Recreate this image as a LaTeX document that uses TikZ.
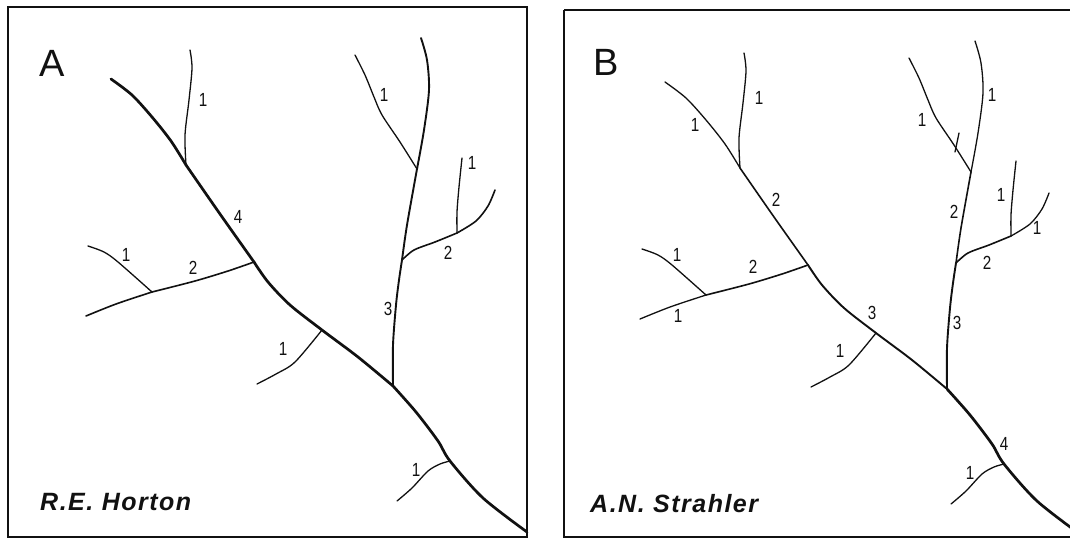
\documentclass[tikz,border=0pt]{standalone}
\usepackage{fontspec}
\setsansfont{Liberation Sans}
\newfontfamily\authorfont[LetterSpace=6]{Liberation Sans}
\newfontfamily\ordfont[FakeStretch=0.8]{Liberation Sans}
\usepackage{tikz}
\usetikzlibrary{positioning}
\definecolor{ink}{HTML}{111111}

% one drainage network, drawn in pixel units; segment styles are set per panel
\newcommand{\streamnet}{%
  \coordinate (j1) at (186,165);
  \coordinate (j2) at (254,262);
  \coordinate (j3) at (322,330);
  \coordinate (j4) at (393,386);
  \coordinate (j5) at (450,461);
  \coordinate (k1) at (417,169);
  \coordinate (k2) at (402,260);
  \coordinate (l1) at (152,292);
  \coordinate (r1) at (457,233);
  % main stream
  \draw[trunkA] plot[smooth] coordinates {(111,79) (132,95) (152,117) (171,141) (j1)};
  \draw[trunkB] plot[smooth] coordinates {(j1) (220,214) (j2)};
  \draw[trunkC] plot[smooth] coordinates {(j2) (268,282) (290,305) (j3) (358,357) (j4)};
  \draw[trunkD] plot[smooth] coordinates {(j4) (416,412) (438,441) (j5) (483,498) (527,532)};
  % east stream
  \draw[eastC] plot[smooth] coordinates {(j4) (393,345) (396,305) (399,280) (k2)};
  \draw[eastB] plot[smooth] coordinates {(k2) (407,225) (k1)};
  \draw[eastA] plot[smooth] coordinates {(k1) (424,130) (429,90) (427,60) (421,38)};
  % west stream
  \draw[westA] plot[smooth] coordinates {(86,316) (116,304) (l1)};
  \draw[westB] plot[smooth] coordinates {(l1) (195,281) (228,271) (j2)};
  % east fork
  \draw[forkB] plot[smooth] coordinates {(k2) (414,250) (435,242) (r1)};
  \draw[forkA] plot[smooth] coordinates {(r1) (476,221) (488,206) (495,190)};
  % first order tributaries
  \draw[ord1] plot[smooth] coordinates {(190,50) (192,68) (189,100) (185,135) (j1)};
  \draw[ord1] plot[smooth] coordinates {(88,246) (104,252) (118,262) (l1)};
  \draw[ord1] plot[smooth] coordinates {(257,384) (276,374) (295,362) (j3)};
  \draw[ord1] plot[smooth] coordinates {(355,55) (365,75) (374,97) (382,115) (400,142) (k1)};
  \draw[ord1] plot[smooth] coordinates {(462,158) (459,187) (457,212) (r1)};
  \draw[ord1] plot[smooth] coordinates {(397,501) (412,488) (428,471) (440,464) (j5)};
}

\begin{document}
\begin{tikzpicture}[x=1pt, y=-1pt,
  frame/.style={draw=ink, line width=1.6pt},
  ord1/.style={draw=ink, line width=1.3pt, line cap=round, line join=round},
  ord2/.style={draw=ink, line width=1.6pt, line cap=round, line join=round},
  ord3/.style={draw=ink, line width=1.9pt, line cap=round, line join=round},
  ord4/.style={draw=ink, line width=2.7pt, line cap=round, line join=round},
  num/.style={font=\fontsize{19}{19}\selectfont\ordfont, text=ink, inner sep=0pt},
  panel/.style={font=\fontsize{38}{38}\selectfont\sffamily, text=ink, inner sep=0pt},
  author/.style={font=\fontsize{25}{25}\selectfont\authorfont\bfseries\itshape,
                 text=ink, inner sep=0pt, anchor=base west},
]
  \useasboundingbox (0,0) rectangle (1070,542);
  \fill[white] (0,0) rectangle (1070,542);

  % panel A: Horton
  \draw[frame] (8,7) rectangle (527,537);
  \begin{scope}[trunkA/.style=ord4, trunkB/.style=ord4, trunkC/.style=ord4, trunkD/.style=ord4,
                eastA/.style=ord3, eastB/.style=ord3, eastC/.style=ord3,
                westA/.style=ord2, westB/.style=ord2, forkA/.style=ord2, forkB/.style=ord2]
    \streamnet
  \end{scope}
  \node[panel] (pa) at (52,63) {A};
  \node[author] (horton) at (40,510) {R.E. Horton};
  \node[num] (a1n) at (203,100) {1};
  \node[num] (a4)  at (238,217) {4};
  \node[num] (a1w) at (126,255) {1};
  \node[num] (a2w) at (193,268) {2};
  \node[num] (a1m) at (283,349) {1};
  \node[num] (a3)  at (388,309) {3};
  \node[num] (a1b) at (384,95)  {1};
  \node[num] (a1t) at (472,163) {1};
  \node[num] (a2e) at (448,253) {2};
  \node[num] (a1s) at (416,470) {1};

  % panel B: Strahler
  \draw[frame] (564,10) -- (1080,10) (564,10) -- (564,537) -- (1080,537);
  \begin{scope}[shift={(554,3)},
                trunkA/.style=ord1, trunkB/.style=ord2, trunkC/.style=ord3, trunkD/.style=ord4,
                eastA/.style=ord1, eastB/.style=ord2, eastC/.style=ord3,
                westA/.style=ord1, westB/.style=ord2, forkA/.style=ord1, forkB/.style=ord2]
    \streamnet
    \draw[ord1] (405,130) -- (401,149);
  \end{scope}
  \node[panel] (pb) at (606,62) {B};
  \node[author] (strahler) at (590,512) {A.N. Strahler};
  \node[num] (b1u) at (695,125) {1};
  \node[num] (b1n) at (759,98)  {1};
  \node[num] (b2m) at (776,200) {2};
  \node[num] (b1w) at (677,255) {1};
  \node[num] (b2w) at (753,267) {2};
  \node[num] (b1v) at (678,316) {1};
  \node[num] (b3m) at (872,313) {3};
  \node[num] (b1m) at (840,351) {1};
  \node[num] (b1b) at (922,120) {1};
  \node[num] (b1r) at (992,95)  {1};
  \node[num] (b2e) at (954,212) {2};
  \node[num] (b1t) at (1001,195) {1};
  \node[num] (b1f) at (1037,228) {1};
  \node[num] (b2f) at (987,263) {2};
  \node[num] (b3e) at (957,323) {3};
  \node[num] (b4)  at (1004,444) {4};
  \node[num] (b1s) at (970,473) {1};
\end{tikzpicture}
\end{document}
